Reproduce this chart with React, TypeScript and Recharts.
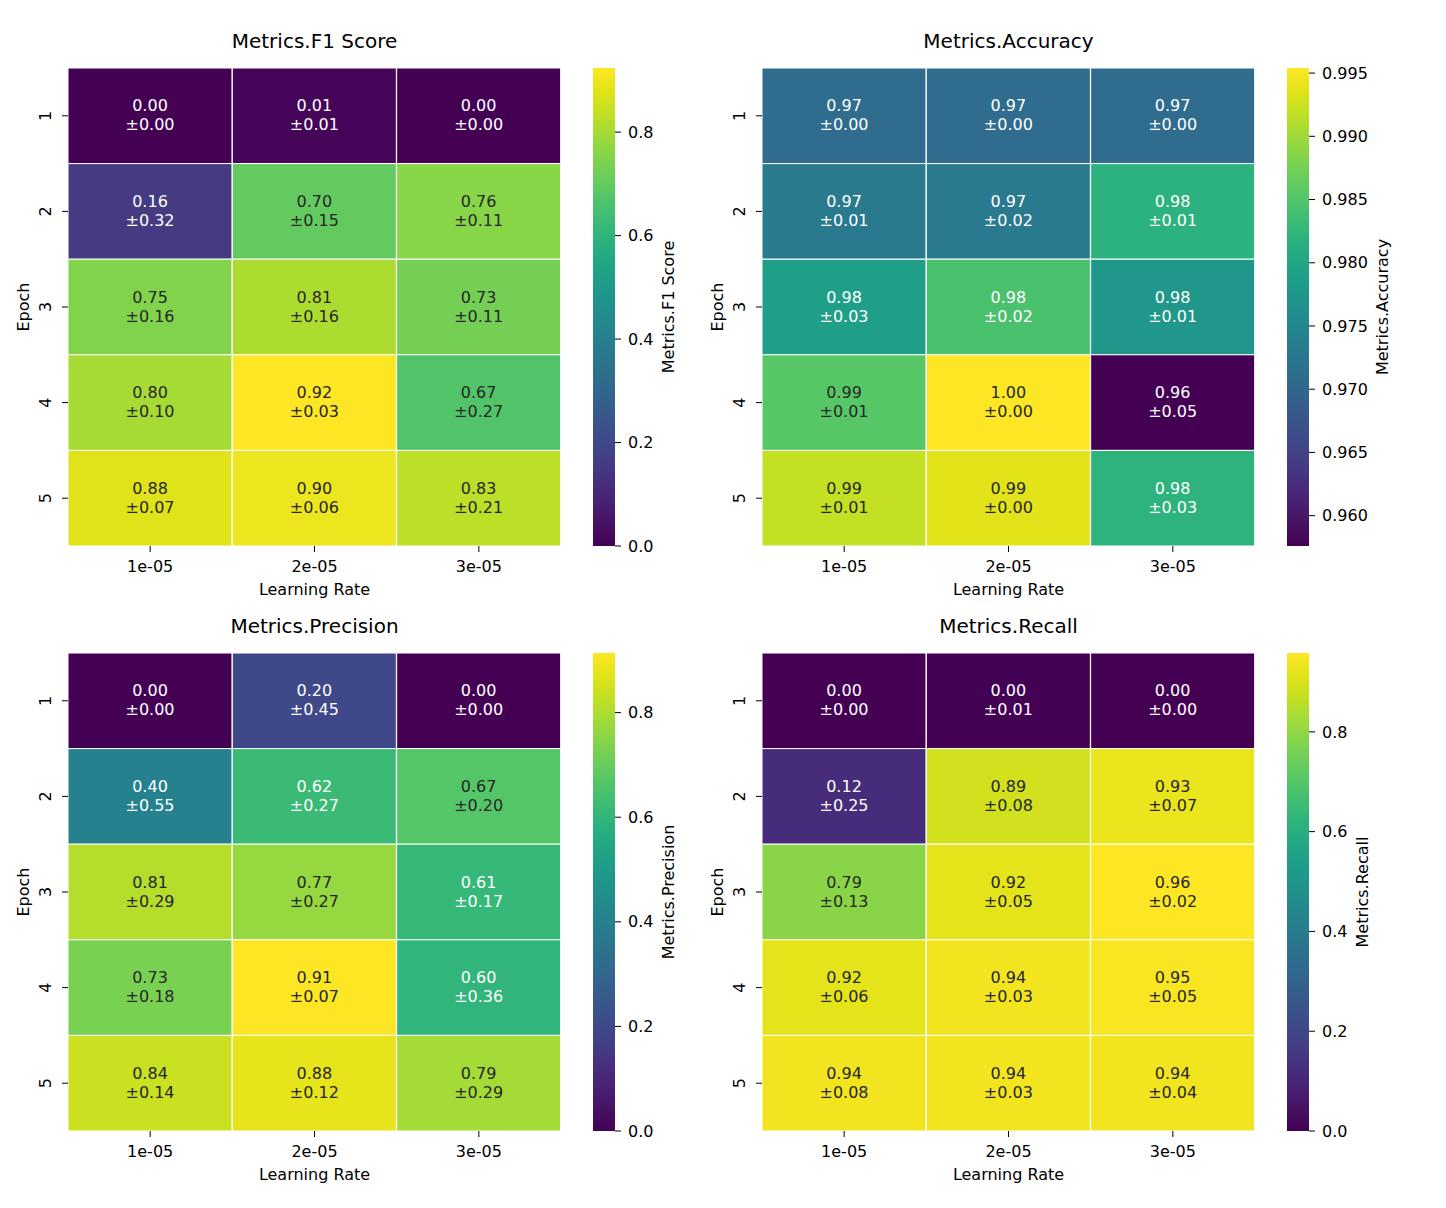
import { BarChart, Bar, Cell, XAxis, YAxis, LabelList } from 'recharts'

const learningRates = ['1e-05', '2e-05', '3e-05']
const epochs = [1, 2, 3, 4, 5]

// rows = epoch, cols = learning rate
const f1Mean = [
  [0.0, 0.01, 0.0],
  [0.16, 0.7, 0.76],
  [0.75, 0.81, 0.73],
  [0.8, 0.924, 0.67],
  [0.88, 0.9, 0.83],
]
const f1Std = [
  [0.0, 0.01, 0.0],
  [0.32, 0.15, 0.11],
  [0.16, 0.16, 0.11],
  [0.1, 0.03, 0.27],
  [0.07, 0.06, 0.21],
]

const accMean = [
  [0.9708, 0.9708, 0.9708],
  [0.9731, 0.9731, 0.9818],
  [0.9788, 0.9844, 0.9776],
  [0.9854, 0.9954, 0.9576],
  [0.992, 0.9937, 0.982],
]
const accStd = [
  [0.0, 0.0, 0.0],
  [0.01, 0.02, 0.01],
  [0.03, 0.02, 0.01],
  [0.01, 0.0, 0.05],
  [0.01, 0.0, 0.03],
]

const precMean = [
  [0.0, 0.2, 0.0],
  [0.4, 0.62, 0.67],
  [0.81, 0.77, 0.61],
  [0.73, 0.914, 0.6],
  [0.84, 0.88, 0.79],
]
const precStd = [
  [0.0, 0.45, 0.0],
  [0.55, 0.27, 0.2],
  [0.29, 0.27, 0.17],
  [0.18, 0.07, 0.36],
  [0.14, 0.12, 0.29],
]

const recMean = [
  [0.0, 0.003, 0.0],
  [0.12, 0.89, 0.93],
  [0.79, 0.92, 0.958],
  [0.92, 0.94, 0.95],
  [0.94, 0.94, 0.94],
]
const recStd = [
  [0.0, 0.01, 0.0],
  [0.25, 0.08, 0.07],
  [0.13, 0.05, 0.02],
  [0.06, 0.03, 0.05],
  [0.08, 0.03, 0.04],
]

const f1Ticks = [0, 0.2, 0.4, 0.6, 0.8]
const accTicks = [0.96, 0.965, 0.97, 0.975, 0.98, 0.985, 0.99, 0.995]
const precTicks = [0, 0.2, 0.4, 0.6, 0.8]
const recTicks = [0, 0.2, 0.4, 0.6, 0.8]

// viridis, sampled every 0.05
const VIRIDIS = [
  '#440154', '#471365', '#482475', '#463480', '#414487', '#3b528b', '#355f8d',
  '#2f6c8e', '#2a788e', '#25848e', '#21918c', '#1e9c89', '#22a884', '#2fb47c',
  '#44bf70', '#5ec962', '#7ad151', '#9bd93c', '#bddf26', '#dfe318', '#fde725',
]

const FONT = 'DejaVu Sans, sans-serif'
const DARK = '#262626'

const hexToRgb = (h: string) => [1, 3, 5].map((i) => parseInt(h.slice(i, i + 2), 16))

function viridis(t: number) {
  const c = Math.max(0, Math.min(1, t)) * (VIRIDIS.length - 1)
  const i = Math.min(Math.floor(c), VIRIDIS.length - 2)
  const f = c - i
  const a = hexToRgb(VIRIDIS[i])
  const b = hexToRgb(VIRIDIS[i + 1])
  return a.map((v, k) => Math.round(v + (b[k] - v) * f))
}

const rgbStr = (c: number[]) => `rgb(${c[0]},${c[1]},${c[2]})`

// same rule seaborn uses to pick annotation colour
function luminance(c: number[]) {
  const lin = c.map((v) => {
    const s = v / 255
    return s <= 0.03928 ? s / 12.92 : Math.pow((s + 0.055) / 1.055, 2.4)
  })
  return 0.2126 * lin[0] + 0.7152 * lin[1] + 0.0722 * lin[2]
}

interface PanelProps {
  title: string
  label: string
  mean: number[][]
  std: number[][]
  ticks: number[]
  digits: number
  left: number
  top: number
  id: string
}

function Panel({ title, label, mean, std, ticks, digits, left, top, id }: PanelProps) {
  const flat = mean.flat()
  const lo = Math.min(...flat)
  const hi = Math.max(...flat)
  const norm = (v: number) => (v - lo) / (hi - lo)

  const data = learningRates.map((lr) => {
    const row: Record<string, any> = { lr }
    epochs.forEach((e) => (row[`e${e}`] = 1))
    return row
  })

  const W = 493
  const H = 478
  // colorbar label sits past the widest tick label
  const tickTextW = (0.636 * (digits + 1) + 0.318) * 16
  const cbLabelOffset = 6 + 7 + tickTextW + 16

  const annot = (ei: number) => (p: any) => {
    const { x, y, width, height, index } = p
    const cx = x + width / 2
    const cy = y + height / 2
    const c = viridis(norm(mean[ei][index]))
    const fill = luminance(c) > 0.408 ? DARK : '#fff'
    return (
      <g>
        <text x={cx} y={cy - 9} textAnchor="middle" dominantBaseline="middle" fontSize={16} fill={fill} fontFamily={FONT}>
          {mean[ei][index].toFixed(2)}
        </text>
        <text x={cx} y={cy + 10} textAnchor="middle" dominantBaseline="middle" fontSize={16} fill={fill} fontFamily={FONT}>
          {'±' + std[ei][index].toFixed(2)}
        </text>
      </g>
    )
  }

  const yTick = (p: any) => (
    <text
      transform={`translate(${p.x - 14},${p.y}) rotate(-90)`}
      textAnchor="middle"
      dominantBaseline="middle"
      fontSize={16}
      fill="#000"
      fontFamily={FONT}
    >
      {String(p.payload.value + 0.5)}
    </text>
  )

  const cbData = [{ k: 'cb', v: [lo, hi] }]
  const gid = `grad-${id}`

  return (
    <>
      <div
        style={{
          position: 'absolute',
          left: left,
          top: top - 39,
          width: W,
          textAlign: 'center',
          fontFamily: FONT,
          fontSize: 20,
          lineHeight: '24px',
          color: '#000',
        }}
      >
        {title}
      </div>
      <div style={{ position: 'absolute', left: left - 68, top: top - 20 }}>
        <BarChart
          width={68 + W + 10}
          height={20 + H + 60}
          data={data}
          margin={{ top: 20, right: 10, bottom: 0, left: 0 }}
          barCategoryGap={0}
        >
          <XAxis
            dataKey="lr"
            height={60}
            axisLine={false}
            tickSize={6}
            tickMargin={9}
            tickLine={{ stroke: '#000' }}
            tick={{ fontSize: 16, fill: '#000', fontFamily: FONT }}
            label={{
              content: (p: any) => (
                <text
                  x={p.viewBox.x + p.viewBox.width / 2}
                  y={p.viewBox.y + 44}
                  textAnchor="middle"
                  dominantBaseline="middle"
                  fontSize={16}
                  fill="#000"
                  fontFamily={FONT}
                >
                  Learning Rate
                </text>
              ),
            }}
          />
          <YAxis
            type="number"
            domain={[0, 5]}
            reversed
            width={68}
            ticks={[0.5, 1.5, 2.5, 3.5, 4.5]}
            axisLine={false}
            tickSize={6}
            tickLine={{ stroke: '#000' }}
            tick={yTick}
            allowDataOverflow
            label={{
              content: (p: any) => {
                const cx = p.viewBox.x + p.viewBox.width - 44
                const cy = p.viewBox.y + p.viewBox.height / 2
                return (
                  <text
                    transform={`translate(${cx},${cy}) rotate(-90)`}
                    textAnchor="middle"
                    dominantBaseline="middle"
                    fontSize={16}
                    fill="#000"
                    fontFamily={FONT}
                  >
                    Epoch
                  </text>
                )
              },
            }}
          />
          {epochs.map((e, ei) => (
            <Bar
              key={e}
              dataKey={`e${e}`}
              stackId="s"
              isAnimationActive={false}
              stroke="#ffffff"
              strokeWidth={1}
            >
              {learningRates.map((lr, j) => (
                <Cell key={lr} fill={rgbStr(viridis(norm(mean[ei][j])))} />
              ))}
              <LabelList content={annot(ei)} />
            </Bar>
          ))}
        </BarChart>
      </div>
      <div style={{ position: 'absolute', left: left + 525, top: top - 20 }}>
        <BarChart
          width={22 + 100}
          height={20 + H + 60}
          data={cbData}
          margin={{ top: 20, right: 0, bottom: 60, left: 0 }}
          barCategoryGap={0}
        >
          <defs>
            <linearGradient id={gid} x1="0" y1="1" x2="0" y2="0">
              {VIRIDIS.map((c, i) => (
                <stop key={i} offset={`${(i / (VIRIDIS.length - 1)) * 100}%`} stopColor={c} />
              ))}
            </linearGradient>
          </defs>
          <XAxis dataKey="k" hide />
          <YAxis
            orientation="right"
            type="number"
            domain={[lo, hi]}
            ticks={ticks}
            allowDataOverflow
            width={100}
            axisLine={false}
            tickSize={6}
            tickMargin={7}
            tickLine={{ stroke: '#000' }}
            tick={{ fontSize: 16, fill: '#000', fontFamily: FONT }}
            tickFormatter={(v: number) => v.toFixed(digits)}
            label={{
              content: (p: any) => {
                const cx = p.viewBox.x + cbLabelOffset
                const cy = p.viewBox.y + p.viewBox.height / 2
                return (
                  <text
                    transform={`translate(${cx},${cy}) rotate(-90)`}
                    textAnchor="middle"
                    dominantBaseline="middle"
                    fontSize={16}
                    fill="#000"
                    fontFamily={FONT}
                  >
                    {label}
                  </text>
                )
              },
            }}
          />
          <Bar dataKey="v" fill={`url(#${gid})`} isAnimationActive={false} />
        </BarChart>
      </div>
    </>
  )
}

export default function App() {
  return (
    <div
      style={{
        position: 'absolute',
        left: 0,
        top: 0,
        width: 1446,
        height: 1208,
        background: '#fff',
        overflow: 'hidden',
      }}
    >
      <Panel id="f1" title="Metrics.F1 Score" label="Metrics.F1 Score" mean={f1Mean} std={f1Std} ticks={f1Ticks} digits={1} left={68} top={68} />
      <Panel id="acc" title="Metrics.Accuracy" label="Metrics.Accuracy" mean={accMean} std={accStd} ticks={accTicks} digits={3} left={762} top={68} />
      <Panel id="prec" title="Metrics.Precision" label="Metrics.Precision" mean={precMean} std={precStd} ticks={precTicks} digits={1} left={68} top={653} />
      <Panel id="rec" title="Metrics.Recall" label="Metrics.Recall" mean={recMean} std={recStd} ticks={recTicks} digits={1} left={762} top={653} />
    </div>
  )
}
